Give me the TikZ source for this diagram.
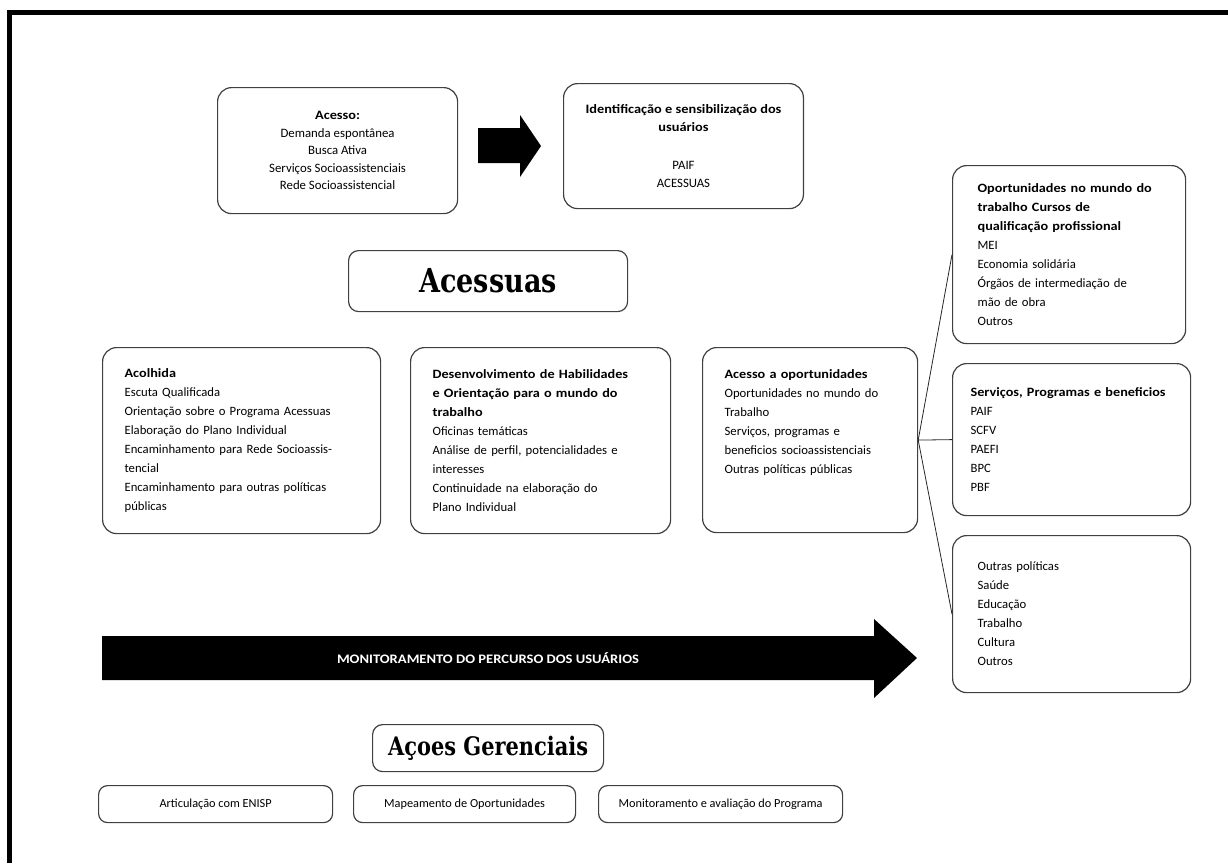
\documentclass[tikz,border=0pt]{standalone}
\usepackage{fontspec}
\setmainfont{Carlito}[BoldFeatures={FakeStretch=1.12}]
\newfontfamily\slabfont{DejaVu Serif}[FakeStretch=0.82]
\colorlet{box line color}{black!75}
\newcommand\panelfont{\fontsize{12.7}{19}\selectfont}
\newcommand\smallpanelfont{\fontsize{12.8}{17.5}\selectfont}
\tikzset{
    x={1pt},
    y={-1pt},
    panel/.style={
        draw=box line color,
        line width={1.2pt},
        rounded corners={14pt},
        anchor=north west,
        align=left,
        inner xsep={22pt},
        inner ysep=0pt,
        font=\panelfont,
    },
    center panel/.style={
        panel,
        align=center,
        font=\smallpanelfont,
    },
    title box/.style={
        draw=box line color,
        line width={1.2pt},
        rounded corners={10pt},
        anchor=north west,
        inner sep=0pt,
        font={\slabfont\bfseries},
    },
    action box/.style={
        draw=box line color,
        line width={1.2pt},
        rounded corners={9pt},
        anchor=north west,
        inner sep=0pt,
        font={\fontsize{12.3}{14}\selectfont},
    },
    link/.style={
        draw=black!85,
        line width={0.8pt},
    },
    block arrow/.style={
        fill=black,
        draw=none,
    },
    frame line/.style={
        draw=black,
        line width={4.5pt},
    },
}

\begin{document}
\begin{tikzpicture}
\useasboundingbox (0,0) rectangle (1228,863);
% frame
\path[frame line] (9.5,863) -- (9.5,12.5) -- (1228,12.5);
% top row
\node[center panel, minimum width=240, minimum height=126] (acesso) at (217,87)
    {\textbf{Acesso:}\\Demanda espontânea\\Busca Ativa\\Serviços Socioassistenciais\\Rede Socioassistencial};
\node[center panel, minimum width=239, minimum height=125] (ident) at (563,83)
    {\textbf{Identificação e sensibilização dos}\\\textbf{usuários}\\[21pt]PAIF\\ACESSUAS};
\path[block arrow] (478,128) -- (520,128) -- (520,115) -- (541,146) -- (520,177) -- (520,163) -- (478,163) -- cycle;
% titles
\node[title box, minimum width=279, minimum height=61, font={\slabfont\bfseries\fontsize{33}{36}\selectfont}] (acessuas) at (348,250) {Acessuas};
\node[title box, minimum width=231, minimum height=47, font={\slabfont\bfseries\fontsize{25.5}{28}\selectfont}] (gerenciais) at (372,724) {Açoes Gerenciais};
% middle row
\node[panel, text width=234, minimum height=186] (acolhida) at (102,347)
    {\textbf{Acolhida}\\Escuta Qualificada\\Orientação sobre o Programa Acessuas\\Elaboração do Plano Individual\\Encaminhamento para Rede Socioassis-\\tencial\\Encaminhamento para outras políticas\\públicas};
\node[panel, text width=216, minimum height=186] (habilidades) at (410,347)
    {\textbf{Desenvolvimento de Habilidades}\\\textbf{e Orientação para o mundo do}\\\textbf{trabalho}\\Oficinas temáticas\\Análise de perfil, potencialidades e\\interesses\\Continuidade na elaboração do\\Plano Individual};
\node[panel, text width=171, minimum height=185] (oport) at (702,347)
    {\textbf{Acesso a oportunidades}\\Oportunidades no mundo do\\Trabalho\\Serviços, programas e\\beneficios socioassistenciais\\Outras políticas públicas\\\mbox{}\\\mbox{}};
% right column
\node[panel, inner xsep={25pt}, text width=183, minimum height=178] (trabalho) at (952,165)
    {\textbf{Oportunidades no mundo do}\\\textbf{trabalho Cursos de}\\\textbf{qualificação profissional}\\MEI\\Economia solidária\\Órgãos de intermediação de\\mão de obra\\Outros};
\node[panel, inner xsep={18pt}, text width=202, minimum height=152] (servicos) at (952,363)
    {\textbf{Serviços, Programas e beneficios}\\PAIF\\SCFV\\PAEFI\\BPC\\PBF};
\node[panel, inner xsep={25pt}, text width=188, minimum height=157] (outras) at (952,535)
    {Outras políticas\\Saúde\\Educação\\Trabalho\\Cultura\\Outros};
% connectors
\path[link] (oport.east) -- (trabalho.west);
\path[link] (oport.east) -- (servicos.west);
\path[link] (oport.east) -- (outras.west);
% monitoring arrow
\path[block arrow] (102,636) -- (874,636) -- (874,619) -- (917,658) -- (874,698) -- (874,680) -- (102,680) -- cycle;
\node[text=white, font={\bfseries\fontsize{13}{15}\selectfont}] (percurso) at (488,658) {MONITORAMENTO DO PERCURSO DOS USUÁRIOS};
% management actions
\node[action box, minimum width=234, minimum height=37] (enisp) at (98,785) {Articulação com ENISP};
\node[action box, minimum width=222, minimum height=37] (mapeamento) at (353,785) {Mapeamento de Oportunidades};
\node[action box, minimum width=244, minimum height=37] (avaliacao) at (598,785) {Monitoramento e avaliação do Programa};
\end{tikzpicture}
\end{document}
